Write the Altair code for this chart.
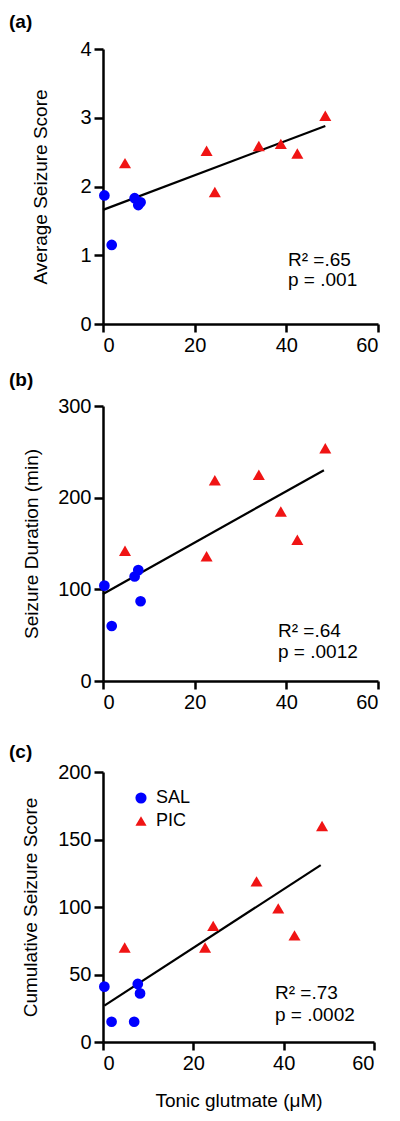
import altair as alt
import pandas as pd

FONT = "Liberation Sans"

groups = ["SAL", "PIC"]
group_colors = ["#0000FF", "#F01414"]
group_shapes = ["circle", "triangle-up"]

# Tonic glutamate (µM) for each animal
x_sal = [0.3, 1.9, 6.9, 7.7, 8.2]
x_pic = [4.8, 22.6, 24.4, 34.0, 38.8, 42.4, 48.5]

# (a) Average seizure score
a_sal = [1.87, 1.15, 1.83, 1.73, 1.77]
a_pic = [2.34, 2.52, 1.92, 2.59, 2.62, 2.48, 3.03]
# (b) Seizure duration (min)
b_sal = [104, 60, 114, 121, 87]
b_pic = [142, 136, 219, 225, 185, 154, 254]
# (c) Cumulative seizure score
c_sal = [41, 15, 15, 43, 36]
c_pic = [70, 70, 86, 119, 99, 79, 160]

# regression lines
a_fit_x = [0.0, 48.5]
a_fit_y = [1.66, 2.88]
b_fit_x = [0.0, 48.2]
b_fit_y = [95, 230]
c_fit_x = [0.3, 48.2]
c_fit_y = [27, 131]

x_ticks = [0, 20, 40, 60]
a_ticks = [0, 1, 2, 3, 4]
b_ticks = [0, 100, 200, 300]
c_ticks = [0, 50, 100, 150, 200]


def text_layer(s, x, y, size=19, weight="normal"):
    return alt.Chart(alt.Data(values=[{}])).mark_text(
        text=s, align="left", baseline="alphabetic", fontSize=size,
        fontWeight=weight, font=FONT, color="black"
    ).encode(x=alt.value(x), y=alt.value(y))


def panel(ys_sal, ys_pic, fx, fy, ydom, yticks, ytitle, label, label_y,
          ann1, ann2, ann_x, ann_y1, ann_y2, title_pad, w, h,
          show_x_title=False, show_legend=False):
    df = pd.DataFrame({
        "x": x_sal + x_pic,
        "y": ys_sal + ys_pic,
        "group": ["SAL"] * len(x_sal) + ["PIC"] * len(x_pic),
    })
    fit = pd.DataFrame({"x": fx, "y": fy})
    xscale = alt.Scale(domain=[0, 60], nice=False)
    yscale = alt.Scale(domain=ydom, nice=False)
    if show_x_title:
        xaxis = alt.Axis(values=x_ticks, title="Tonic glutmate (μM)", titlePadding=18)
    else:
        xaxis = alt.Axis(values=x_ticks, title=None)
    yaxis = alt.Axis(values=yticks, title=ytitle, titlePadding=title_pad, tickSize=9)

    line = alt.Chart(fit).mark_line(color="black", strokeWidth=2.2).encode(
        x=alt.X("x:Q", scale=xscale, axis=xaxis),
        y=alt.Y("y:Q", scale=yscale, axis=yaxis),
    )
    if show_legend:
        legend = alt.Legend(
            orient="none", legendX=29, legendY=17, title=None,
            labelFontSize=18, labelFont=FONT, labelColor="black",
            symbolSize=125, labelOffset=6, rowPadding=5, padding=0,
            symbolStrokeWidth=0,
        )
    else:
        legend = None
    pts = alt.Chart(df).mark_point(filled=True, opacity=1).encode(
        x=alt.X("x:Q", scale=xscale, axis=xaxis),
        y=alt.Y("y:Q", scale=yscale, axis=yaxis),
        color=alt.Color("group:N", scale=alt.Scale(domain=groups, range=group_colors), legend=legend),
        shape=alt.Shape("group:N", scale=alt.Scale(domain=groups, range=group_shapes), legend=legend),
        size=alt.Size("group:N", scale=alt.Scale(domain=groups, range=[115, 145]), legend=None),
    )
    layers = [
        line, pts,
        text_layer(ann1, ann_x, ann_y1),
        text_layer(ann2, ann_x, ann_y2),
        text_layer(label, -94, label_y, size=19, weight="bold"),
    ]
    return alt.layer(*layers).properties(width=w, height=h)


pa = panel(a_sal, a_pic, a_fit_x, a_fit_y, [0, 4], a_ticks, "Average Seizure Score",
           "(a)", -21, "R² =.65", "p = .001", 185, 217, 237, 29, 275, 275)
pb = panel(b_sal, b_pic, b_fit_x, b_fit_y, [0, 300], b_ticks, "Seizure Duration (min)",
           "(b)", -20, "R² =.64", "p = .0012", 175, 231, 252, 16, 275, 275)
pc = panel(c_sal, c_pic, c_fit_x, c_fit_y, [0, 200], c_ticks, "Cumulative Seizure Score",
           "(c)", -14, "R² =.73", "p = .0002", 172, 227, 249, 17, 271, 270,
           show_x_title=True, show_legend=True)

top = alt.vconcat(pa, pb, spacing=16).resolve_legend(color="independent", shape="independent")
chart = alt.vconcat(top, pc, spacing=31).resolve_legend(
    color="independent", shape="independent"
).properties(
    padding={"left": 1, "top": 5, "right": 5, "bottom": 5}
).configure_view(stroke=None).configure_axis(
    grid=False,
    domainColor="black", domainWidth=2.5,
    tickColor="black", tickWidth=2.5, tickSize=8,
    labelFont=FONT, labelFontSize=20, labelColor="black", labelPadding=3,
    titleFont=FONT, titleFontSize=19, titleFontWeight="normal", titleColor="black",
)

chart.save("out.html", embed_options={"renderer": "svg", "actions": False})
